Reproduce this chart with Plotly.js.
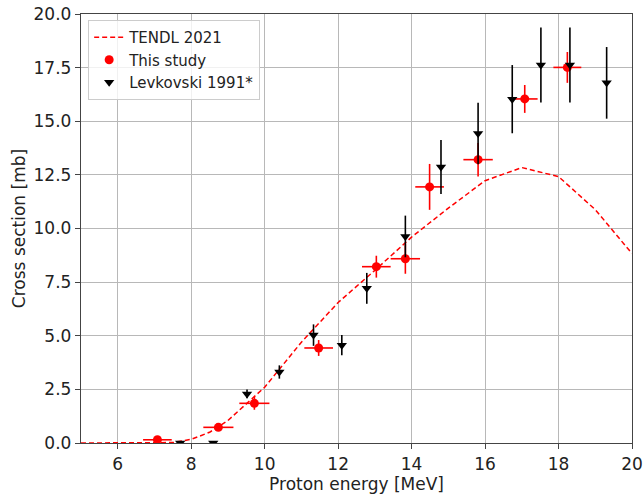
<!DOCTYPE html>
<html>
<head>
<meta charset="utf-8">
<script src="https://cdn.plot.ly/plotly-3.0.1.min.js"></script>
<style>
  html, body { margin: 0; padding: 0; background: #fff; }
  #chart { width: 643px; height: 494px; }
</style>
</head>
<body>
<div id="chart"></div>
<script>
// TENDL 2021 evaluation
const tendlEnergy = [5, 6, 7, 7.5, 8, 8.5, 9, 10, 11, 12, 13, 14, 15, 16, 17, 18, 19, 20];
const tendlXs     = [0, 0, 0, 0.02, 0.17, 0.5, 1.05, 2.6, 4.7, 6.55, 8.05, 9.6, 10.95, 12.23, 12.84, 12.42, 10.88, 8.83];

// This study
const studyEnergy    = [7.08, 8.74, 9.72, 11.47, 13.04, 13.83, 14.49, 15.81, 17.08, 18.24];
const studyEnergyErr = [0.39, 0.41, 0.41, 0.39, 0.39, 0.40, 0.39, 0.40, 0.35, 0.38];
const studyXs        = [0.15, 0.73, 1.85, 4.43, 8.22, 8.59, 11.94, 13.21, 16.04, 17.51];
const studyXsErr     = [0.08, 0.12, 0.30, 0.37, 0.51, 0.70, 1.07, 0.78, 0.65, 0.72];

// Levkovski 1991*
const levEnergy = [7.7, 8.6, 9.52, 10.4, 11.33, 12.1, 12.78, 13.83, 14.8, 15.81, 16.74, 17.52, 18.31, 19.31];
const levXs     = [0, 0, 2.29, 3.31, 5.03, 4.56, 7.21, 9.63, 12.87, 14.43, 16.03, 17.62, 17.62, 16.79];
const levXsErr  = [0.02, 0.02, 0.2, 0.31, 0.5, 0.47, 0.72, 0.97, 1.26, 1.43, 1.59, 1.75, 1.75, 1.67];

const yTicks = [0, 2.5, 5, 7.5, 10, 12.5, 15, 17.5, 20];
const yTickText = ['0.0', '2.5', '5.0', '7.5', '10.0', '12.5', '15.0', '17.5', '20.0'];
const xTicks = [6, 8, 10, 12, 14, 16, 18, 20];

const FONT = 'DejaVu Sans, sans-serif';

const traces = [
  {
    x: tendlEnergy, y: tendlXs, type: 'scatter', mode: 'lines',
    name: 'TENDL 2021',
    line: { color: '#ff0000', width: 1.5, dash: '5px,3px' }
  },
  {
    x: studyEnergy, y: studyXs, type: 'scatter', mode: 'markers',
    name: 'This study',
    marker: { color: '#ff0000', size: 9, symbol: 'circle' },
    error_x: { type: 'data', array: studyEnergyErr, visible: true, color: '#ff0000', thickness: 1.6, width: 0 },
    error_y: { type: 'data', array: studyXsErr, visible: true, color: '#ff0000', thickness: 1.6, width: 0 }
  },
  {
    x: levEnergy, y: levXs, type: 'scatter', mode: 'markers',
    name: 'Levkovski 1991*',
    marker: { color: '#000000', size: 9, symbol: 'triangle-down' },
    error_y: { type: 'data', array: levXsErr, visible: true, color: '#000000', thickness: 1.6, width: 0 }
  }
];

const layout = {
  width: 643, height: 494,
  margin: { l: 81, r: 11, t: 14, b: 51 },
  paper_bgcolor: '#ffffff', plot_bgcolor: '#ffffff',
  font: { family: FONT, size: 16, color: '#222' },
  showlegend: true,
  legend: {
    x: 0.013, y: 0.986, xanchor: 'left', yanchor: 'top',
    bgcolor: 'rgba(255,255,255,0.8)', bordercolor: '#cccccc', borderwidth: 1,
    font: { family: FONT, size: 15, color: '#222' },
    itemwidth: 30, tracegroupgap: 2
  },
  xaxis: {
    range: [5, 20], tickvals: xTicks, ticktext: xTicks.map(String),
    showgrid: true, gridcolor: '#b8b8b8', gridwidth: 1,
    showline: true, linecolor: '#444', linewidth: 1.2, mirror: true,
    ticks: 'outside', ticklen: 5, tickcolor: '#444',
    zeroline: false,
    tickfont: { family: FONT, size: 17, color: '#222' },
    title: { text: 'Proton energy [MeV]', font: { family: FONT, size: 17, color: '#222' }, standoff: 4 }
  },
  yaxis: {
    range: [0, 20], tickvals: yTicks, ticktext: yTickText,
    showgrid: true, gridcolor: '#b8b8b8', gridwidth: 1,
    showline: true, linecolor: '#444', linewidth: 1.2, mirror: true,
    ticks: 'outside', ticklen: 5, tickcolor: '#444',
    zeroline: false,
    tickfont: { family: FONT, size: 17, color: '#222' },
    title: { text: 'Cross section [mb]', font: { family: FONT, size: 17, color: '#222' }, standoff: 3 }
  }
};

Plotly.newPlot('chart', traces, layout, { displayModeBar: false, staticPlot: true });
</script>
</body>
</html>
